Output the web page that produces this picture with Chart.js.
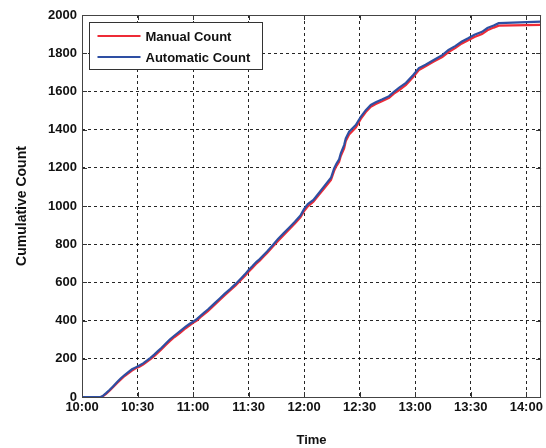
<!DOCTYPE html>
<html lang="en">
<head>
  <meta charset="UTF-8">
  <title>Cumulative Count</title>
  <script src="https://cdn.jsdelivr.net/npm/chart.js@4"></script>
  <style>
    body, html {
      margin: 0;
      padding: 0;
      background: #fff;
      overflow: hidden;
    }
    canvas { display: block; }
  </style>
</head>
<body>
  <canvas id="countChart" width="546" height="448"></canvas>

  <script>
    // minutes after 10:00
    const sampleTimes = [0, 10, 11, 13, 15, 17, 19, 21, 23, 25, 27, 29, 31, 33, 35, 37, 39, 41, 43, 45, 47.4, 50, 53, 56, 58, 60, 62, 64, 66, 68, 70, 72, 74.4, 77, 80, 83, 86, 88, 90, 92, 94, 96, 98, 100, 103, 106, 109, 112, 115, 118, 120, 122, 125, 128, 131, 134.5, 136.2, 137.5, 138.9, 139.8, 141.6, 142.5, 144.3, 147.9, 150.6, 153.3, 156, 158.7, 162, 165.9, 168.5, 171.2, 175, 178.8, 182, 185.6, 190, 194.6, 198, 201.8, 205, 208.6, 212, 216.1, 219, 222.4, 225.1, 248];
    const autoCounts = [0, 0, 4, 20, 38, 58, 78, 98, 115, 130, 145, 155, 165, 176, 190, 205, 222, 240, 258, 278, 301, 322, 345, 368, 382, 394, 408, 425, 442, 458, 476, 494, 516, 540, 565, 592, 622, 642, 665, 684, 705, 722, 742, 762, 795, 828, 858, 888, 918, 950, 985, 1010, 1032, 1068, 1105, 1148, 1197, 1222, 1245, 1276, 1319, 1354, 1389, 1424, 1467, 1502, 1529, 1543, 1557, 1575, 1598, 1618, 1645, 1685, 1722, 1740, 1764, 1790, 1817, 1838, 1860, 1878, 1897, 1912, 1932, 1945, 1957, 1965, 1965];
    const manualCounts = [0, 0, 2, 16, 34, 54, 74, 92, 110, 124, 138, 150, 158, 170, 184, 198, 214, 232, 250, 270, 292, 314, 336, 360, 374, 388, 400, 418, 434, 450, 468, 486, 508, 532, 558, 584, 614, 634, 656, 676, 696, 714, 734, 754, 786, 818, 848, 878, 908, 940, 974, 998, 1022, 1058, 1094, 1136, 1184, 1210, 1232, 1262, 1302, 1340, 1374, 1410, 1456, 1492, 1520, 1534, 1548, 1566, 1588, 1606, 1634, 1674, 1712, 1732, 1756, 1780, 1806, 1828, 1850, 1868, 1885, 1900, 1920, 1934, 1944, 1948, 1948];

    const xTickValues = [0, 30, 60, 90, 120, 150, 180, 210, 240];
    const yTicks = { min: 0, max: 2000, step: 200 };

    function clockLabel(minutes) {
      const h = 10 + Math.floor(minutes / 60);
      const m = minutes % 60;
      return h + ':' + String(m).padStart(2, '0');
    }

    const tickFont = { family: 'Liberation Sans, Arial, sans-serif', size: 13, weight: 'bold' };
    const gridStyle = {
      color: 'rgba(0, 0, 0, 0.85)',
      lineWidth: 1,
      drawTicks: false
    };
    // in v4 the border dash is what dashes the grid lines
    const dashedBorder = { display: false, dash: [3, 3] };

    // plot frame and inward tick marks, matlab style
    const frame = {
      id: 'frame',
      afterDatasetsDraw(chart) {
        const { ctx, chartArea: a, scales } = chart;
        ctx.save();
        ctx.strokeStyle = '#333';
        ctx.lineWidth = 1;
        ctx.beginPath();
        scales.x.ticks.forEach(t => {
          const px = Math.round(scales.x.getPixelForValue(t.value)) + 0.5;
          ctx.moveTo(px, a.top); ctx.lineTo(px, a.top + 5);
          ctx.moveTo(px, a.bottom); ctx.lineTo(px, a.bottom - 5);
        });
        scales.y.ticks.forEach(t => {
          const py = Math.round(scales.y.getPixelForValue(t.value)) + 0.5;
          ctx.moveTo(a.left, py); ctx.lineTo(a.left + 5, py);
          ctx.moveTo(a.right, py); ctx.lineTo(a.right - 5, py);
        });
        ctx.stroke();
        ctx.strokeStyle = '#444';
        ctx.strokeRect(Math.round(a.left) + 0.5, Math.round(a.top) + 0.5,
          Math.round(a.right - a.left) - 1, Math.round(a.bottom - a.top));
        ctx.restore();
      }
    };

    // boxed legend inside the plot
    const boxLegend = {
      id: 'boxLegend',
      afterDraw(chart) {
        const { ctx, chartArea: a } = chart;
        const left = a.left + 7.5, top = a.top + 7.5;
        const w = 173, h = 47;
        ctx.save();
        ctx.fillStyle = '#fff';
        ctx.fillRect(left, top, w, h);
        ctx.strokeStyle = '#333';
        ctx.lineWidth = 1;
        ctx.strokeRect(left, top, w, h);
        ctx.font = 'bold 13px "Liberation Sans", Arial, sans-serif';
        ctx.textBaseline = 'middle';
        chart.data.datasets.forEach((ds, i) => {
          const y = top + 13.5 + i * 21;
          ctx.strokeStyle = ds.borderColor;
          ctx.lineWidth = 2;
          ctx.beginPath();
          ctx.moveTo(left + 8, y);
          ctx.lineTo(left + 51, y);
          ctx.stroke();
          ctx.fillStyle = '#111';
          ctx.fillText(ds.label, left + 56, y + 1);
        });
        ctx.restore();
      }
    };

    const ctx = document.getElementById('countChart').getContext('2d');
    new Chart(ctx, {
      type: 'line',
      data: {
        datasets: [
          {
            label: 'Manual Count',
            data: sampleTimes.map((t, i) => ({ x: t, y: manualCounts[i] })),
            borderColor: '#ee2b36',
            borderWidth: 2.2,
            pointRadius: 0,
            order: 1
          },
          {
            label: 'Automatic Count',
            data: sampleTimes.map((t, i) => ({ x: t, y: autoCounts[i] })),
            borderColor: '#2e4fa3',
            borderWidth: 2.2,
            pointRadius: 0,
            order: 0
          }
        ]
      },
      options: {
        responsive: false,
        animation: false,
        layout: { padding: { top: 15, right: 3, left: 0, bottom: 0 } },
        scales: {
          x: {
            type: 'linear',
            min: 0,
            max: 248,
            afterBuildTicks: scale => {
              scale.ticks = xTickValues.map(v => ({ value: v }));
            },
            afterFit: scale => { scale.height = 51; },
            ticks: {
              autoSkip: false,
              maxRotation: 0,
              padding: 3,
              color: '#111',
              font: tickFont,
              callback: v => clockLabel(v)
            },
            grid: gridStyle,
            border: dashedBorder,
            title: {
              display: true,
              text: 'Time',
              color: '#111',
              font: tickFont,
              padding: { top: 10, bottom: 0 }
            }
          },
          y: {
            min: yTicks.min,
            max: yTicks.max,
            afterFit: scale => { scale.width = 82; },
            ticks: {
              stepSize: yTicks.step,
              padding: 5,
              color: '#111',
              font: tickFont,
              callback: v => String(v)
            },
            grid: gridStyle,
            border: dashedBorder,
            title: {
              display: true,
              text: 'Cumulative Count',
              color: '#111',
              font: { ...tickFont, size: 14 },
              padding: { top: 14, bottom: 0 }
            }
          }
        },
        plugins: {
          legend: { display: false },
          tooltip: { enabled: false }
        }
      },
      plugins: [frame, boxLegend]
    });
  </script>
</body>
</html>
